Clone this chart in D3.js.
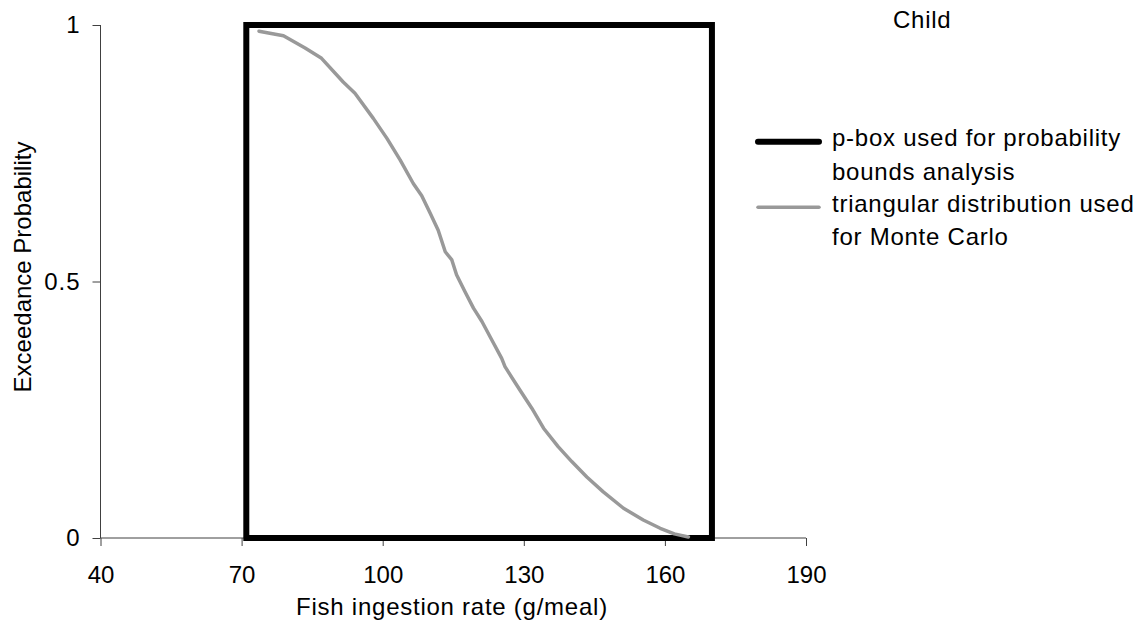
<!DOCTYPE html>
<html>
<head>
<meta charset="utf-8">
<script src="https://cdn.jsdelivr.net/npm/d3@7"></script>
<style>
  html, body { margin: 0; padding: 0; background: #fff; }
  svg { display: block; font-family: "Liberation Sans", Arial, sans-serif; }
</style>
</head>
<body>
<svg id="chart" width="1140" height="621"></svg>
<script>
// ---- data ----
const xTicks = [40, 70, 100, 130, 160, 190];
const yTicks = [0, 0.5, 1];
const yTickLabels = ["0", "0.5", "1"];
// p-box bounds (g/meal)
const pboxLower = 71;
const pboxUpper = 170;
// Monte Carlo exceedance curve (triangular distribution)
const mcX = [73.7, 78.9, 83.5, 87.0, 91.6, 94.1, 98.0, 100.9, 103.7, 106.5, 108.3, 110.1, 111.8, 113.3, 114.7, 115.7, 117.5, 119.3, 121.1, 123.2, 125.3, 126.0, 129.2, 131.7, 134.2, 137.3, 140.2, 143.4, 146.9, 151.2, 155.4, 159.0, 162.0, 165.0];
const mcP = [0.988, 0.979, 0.955, 0.935, 0.889, 0.867, 0.818, 0.779, 0.737, 0.691, 0.667, 0.633, 0.600, 0.558, 0.542, 0.513, 0.480, 0.448, 0.422, 0.386, 0.350, 0.334, 0.288, 0.253, 0.214, 0.178, 0.149, 0.119, 0.090, 0.058, 0.035, 0.019, 0.008, 0.002];
const legendLabels = [
  ["p-box used for probability", "bounds analysis"],
  ["triangular distribution used", "for Monte Carlo"]
];
const titleText = "Child";
const xTitle = "Fish ingestion rate (g/meal)";
const yTitle = "Exceedance Probability";

// ---- layout ----
const svg = d3.select("#chart");
const x = d3.scaleLinear().domain([40, 190]).range([100.5, 806]);
const y = d3.scaleLinear().domain([0, 1]).range([538, 25]);
const axisColor = "#404040";
const fontSize = 24;
const spacing = 0.75;

// x axis
const xAxis = svg.append("g").attr("transform", `translate(0,${y(0)})`)
  .call(d3.axisBottom(x).tickValues(xTicks).tickSize(8).tickPadding(20).tickFormat(d3.format("d")));
xAxis.select(".domain").attr("stroke", axisColor).attr("d", `M${x(40)},0H${x(190)}`);
xAxis.selectAll(".tick line").attr("stroke", axisColor);
xAxis.selectAll(".tick text").attr("font-size", fontSize).attr("fill", "#000")
  .attr("font-family", "Liberation Sans, Arial, sans-serif");

// y axis
const yAxis = svg.append("g").attr("transform", `translate(${x(40)},0)`)
  .call(d3.axisLeft(y).tickValues(yTicks).tickSize(8).tickPadding(12)
    .tickFormat(d => yTickLabels[yTicks.indexOf(d)]));
yAxis.select(".domain").attr("stroke", axisColor).attr("d", `M0,${y(1)}V${y(0)}`);
yAxis.selectAll(".tick line").attr("stroke", axisColor);
yAxis.selectAll(".tick text").attr("font-size", fontSize).attr("fill", "#000")
  .attr("letter-spacing", 1)
  .attr("font-family", "Liberation Sans, Arial, sans-serif");

// p-box
svg.append("rect")
  .attr("x", x(pboxLower)).attr("y", y(1))
  .attr("width", x(pboxUpper) - x(pboxLower))
  .attr("height", y(0) - y(1))
  .attr("fill", "none").attr("stroke", "#000").attr("stroke-width", 6)
  .attr("stroke-linejoin", "miter");

// Monte Carlo curve
const line = d3.line().x((d, i) => x(mcX[i])).y((d, i) => y(mcP[i]));
svg.append("path")
  .attr("d", line(mcX))
  .attr("fill", "none").attr("stroke", "#999").attr("stroke-width", 3.5)
  .attr("stroke-linejoin", "round").attr("stroke-linecap", "round");

// titles
svg.append("text").attr("x", 893).attr("y", 20).attr("dy", "0.35em")
  .attr("font-size", fontSize).attr("letter-spacing", spacing).text(titleText);
svg.append("text").attr("x", 452).attr("y", 615)
  .attr("text-anchor", "middle").attr("font-size", fontSize)
  .attr("letter-spacing", spacing).text(xTitle);
svg.append("text").attr("transform", `translate(31,267) rotate(-90)`)
  .attr("text-anchor", "middle").attr("font-size", fontSize).text(yTitle);

// legend
const legend = svg.append("g");
const legendStyles = [
  { stroke: "#000", width: 6, y: 141.7 },
  { stroke: "#999", width: 3.5, y: 207.3 }
];
legendStyles.forEach((s, i) => {
  legend.append("line").attr("x1", 758).attr("x2", 819).attr("y1", s.y).attr("y2", s.y)
    .attr("stroke", s.stroke).attr("stroke-width", s.width).attr("stroke-linecap", "round");
  legendLabels[i].forEach((t, j) => {
    legend.append("text").attr("x", 832).attr("y", s.y - 4 + j * 33.5).attr("dy", "0.35em")
      .attr("font-size", fontSize).attr("letter-spacing", spacing).text(t);
  });
});
</script>
</body>
</html>
